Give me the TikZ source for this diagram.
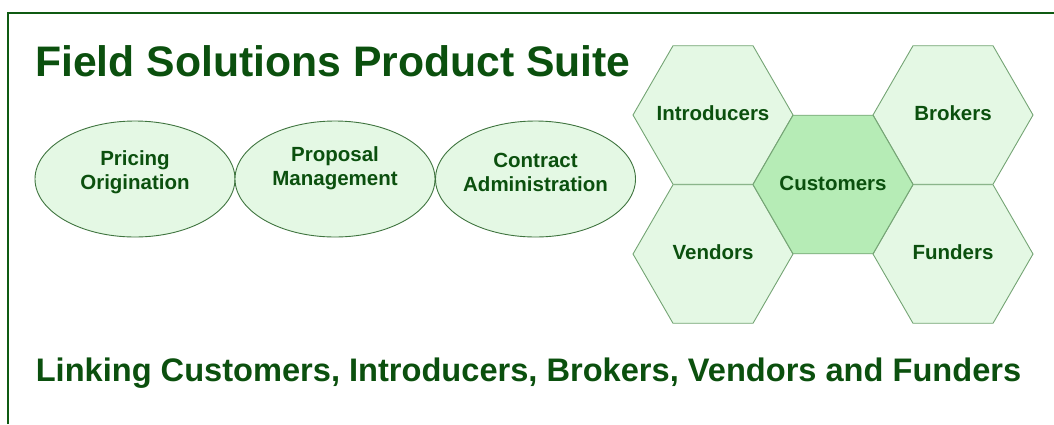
\documentclass[tikz,border=0pt]{standalone}
\usepackage{fontspec}
\setmainfont{Liberation Sans}
\usetikzlibrary{shapes.geometric}
\definecolor{framegreen}{HTML}{0F5A12}
\definecolor{inkgreen}{HTML}{0B500E}
\definecolor{ovalline}{HTML}{3F743F}
\definecolor{hexline}{HTML}{74A474}
\definecolor{palefill}{HTML}{E4F8E4}
\definecolor{corefill}{HTML}{B6ECB6}
\tikzset{
  oval/.style={ellipse, draw=ovalline, line width=0.9pt, fill=palefill,
    minimum width=200pt, minimum height=116pt, inner sep=0pt, outer sep=0pt},
  ovaltext/.style={align=center, text=inkgreen, inner sep=0pt,
    font=\fontsize{20.5}{24}\selectfont\bfseries},
  hexcell/.style={regular polygon, regular polygon sides=6, draw=hexline,
    line width=0.9pt, fill=palefill, minimum size=160pt, inner sep=0pt,
    outer sep=0pt},
  hextext/.style={text=inkgreen, inner sep=0pt,
    font=\fontsize{20.5}{24}\selectfont\bfseries},
  heading/.style={text=inkgreen, inner sep=0pt,
    font=\fontsize{42.7}{50}\selectfont\bfseries},
  tagline/.style={text=inkgreen, inner sep=0pt,
    font=\fontsize{32.6}{38}\selectfont\bfseries}
}
\begin{document}
\begin{tikzpicture}[x=1pt, y=-1pt]
  \useasboundingbox (0,0) rectangle (1054,424);
  % open frame: top and left edges
  \draw[framegreen, line width=1.5pt] (8,424) -- (8,13) -- (1054,13);

  \node[heading, anchor=base west] (title) at (35,76) {Field Solutions Product Suite};

  % product ovals
  \node[oval] (pricing) at (135,179) {};
  \node[oval] (proposal) at (335,179) {};
  \node[oval] (contract) at (535.5,179) {};
  \node[ovaltext] (pricing-text) at (135,172) {Pricing\\Origination};
  \node[ovaltext] (proposal-text) at (335,168.5) {Proposal\\Management};
  \node[ovaltext] (contract-text) at (535.5,172) {Contract\\Administration};

  % honeycomb of parties
  \node[hexcell] (introducers) at (713,115) {};
  \node[hexcell] (brokers) at (953,115) {};
  \node[hexcell] (vendors) at (713,254) {};
  \node[hexcell] (funders) at (953,254) {};
  \node[hexcell, fill=corefill] (customers) at (833,184.5) {};
  \node[hextext] (introducers-text) at (713,113) {Introducers};
  \node[hextext] (brokers-text) at (953,113) {Brokers};
  \node[hextext] (vendors-text) at (713,252) {Vendors};
  \node[hextext] (funders-text) at (953,252) {Funders};
  \node[hextext] (customers-text) at (833,183.5) {Customers};

  \node[tagline, anchor=base] (links) at (528.5,381) {Linking Customers, Introducers, Brokers, Vendors and Funders};
\end{tikzpicture}
\end{document}
